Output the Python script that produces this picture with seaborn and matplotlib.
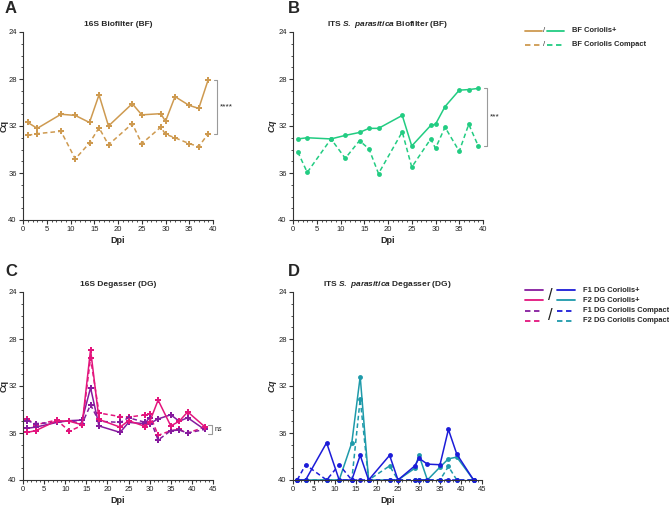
import numpy as np
import pandas as pd
import seaborn as sns
import matplotlib
matplotlib.use("Agg")
import matplotlib.pyplot as plt
from matplotlib.lines import Line2D
from matplotlib.ticker import MultipleLocator

# ---------------- data ----------------
dpi_bf = [1, 3, 8, 11, 14, 16, 18, 23, 25, 29, 30, 32, 35, 37, 39]
a_plus = [31.7, 32.2, 31.0, 31.1, 31.7, 29.35, 32.0, 30.1, 31.05, 30.95, 31.6, 29.5, 30.25, 30.5, 28.05]
a_compact = [32.8, 32.65, 32.45, 34.8, 33.45, 32.15, 33.6, 31.8, 33.5, 32.1, 32.7, 33.0, 33.5, 33.75, 32.65]
b_plus = [33.1, 33.0, 33.1, 32.8, 32.55, 32.2, 32.2, 31.1, 33.7, 31.95, 31.85, 30.35, 28.95, 28.9, 28.8]
b_compact = [34.2, 35.95, 33.1, 34.75, 33.25, 33.95, 36.05, 32.5, 35.5, 33.1, 33.9, 32.1, 34.15, 31.85, 33.7]

dpi_dg = [1, 3, 8, 11, 14, 16, 18, 23, 25, 29, 30, 32, 35, 37, 39, 43]
c_f1_plus = [35.6, 35.5, 35.1, 34.95, 34.9, 32.15, 35.4, 35.95, 35.1, 35.2, 35.2, 34.8, 34.45, 35.0, 34.7, 35.7]
c_f2_plus = [35.95, 35.8, 34.95, 35.0, 35.3, 28.9, 34.85, 35.5, 34.95, 35.45, 35.05, 33.2, 35.4, 35.0, 34.2, 35.45]
c_f1_compact = [34.95, 35.2, 35.1, 34.95, 35.2, 33.6, 35.0, 35.1, 34.7, 35.1, 34.7, 36.6, 35.8, 35.75, 36.0, 35.7]
c_f2_compact = [34.8, 35.3, 34.9, 35.85, 35.35, 29.6, 34.3, 34.6, 34.65, 34.45, 34.4, 36.2, 35.8, 35.7, 36.0, 35.5]
d_f1_plus = [40, 40, 36.83, 40, 40, 37.9, 40, 37.9, 40, 38.8, 38.15, 38.65, 38.7, 35.7, 37.8, 40]
d_f2_plus = [40, 40, 40, 40, 36.83, 31.2, 40, 40, 40, 39.0, 37.9, 40, 38.9, 38.2, 38.05, 40]
d_f1_compact = [40, 38.7, 40, 38.7, 40, 40, 40, 40, 40, 40, 40, 40, 40, 40, 40, 40]
d_f2_compact = [40, 40, 40, 40, 40, 33.1, 40, 38.8, 40, 40, 40, 40, 40, 38.85, 40, 40]

# ---------------- style ----------------
sns.set_theme(style="ticks")
plt.rcParams["font.family"] = ["Liberation Sans", "DejaVu Sans"]
plt.rcParams["mathtext.fontset"] = "custom"
plt.rcParams["mathtext.it"] = "Liberation Sans:italic:bold"
plt.rcParams["mathtext.rm"] = "Liberation Sans:bold"
plt.rcParams["mathtext.bf"] = "Liberation Sans:bold"

TAN = "#CE9A50"
GREEN = "#22CC82"
PURPLE = "#861B9E"
MAGENTA = "#E3157D"
BLUE = "#1C1CD8"
TEAL = "#1E9AAA"
DASH = (0, (3, 2))

W, H = 669, 507
fig = plt.figure(figsize=(W / 100, H / 100), dpi=100)


def add_ax(x0, x1, y0, y1):
    return fig.add_axes([x0 / W, 1 - y1 / H, (x1 - x0) / W, (y1 - y0) / H])


axA = add_ax(23, 213, 32, 220)
axB = add_ax(293, 483, 32, 220)
axC = add_ax(23, 213, 292, 480)
axD = add_ax(293, 482, 292, 480)


def style_ax(ax, xmax, title, ylab_italic=False):
    ax.set_xlim(0, xmax)
    ax.set_ylim(40, 24)
    ax.xaxis.set_major_locator(MultipleLocator(5))
    ax.xaxis.set_minor_locator(MultipleLocator(1))
    ax.yaxis.set_major_locator(MultipleLocator(4))
    ax.yaxis.set_minor_locator(MultipleLocator(1))
    ax.tick_params(which="major", length=3, width=0.8, labelsize=5.5, pad=1.5, color="#333333", labelcolor="#222222")
    ax.tick_params(which="minor", length=1.6, width=0.6, color="#333333")
    for s in ["top", "right"]:
        ax.spines[s].set_visible(False)
    for s in ["left", "bottom"]:
        ax.spines[s].set_linewidth(0.8)
        ax.spines[s].set_color("#333333")
    ax.set_xlabel("Dpi", fontsize=6.5, fontweight="bold", labelpad=2)
    ax.set_ylabel(r"$\mathit{Cq}$" if ylab_italic else "Cq", fontsize=6.5, fontweight="bold")
    ax.yaxis.set_label_coords(-0.076, 0.5)
    ax.set_title(title, fontsize=6, fontweight="bold", pad=4.5)
    ax.set_facecolor("none")


def draw(ax, x, y, color, dashed, marker, ms):
    sns.lineplot(x=x, y=y, ax=ax, color=color, linewidth=1.1,
                 linestyle=DASH if dashed else "-", marker=marker,
                 markersize=ms, markeredgewidth=0, sort=False,
                 estimator=None, clip_on=False)


# Panel A
draw(axA, dpi_bf, a_compact, TAN, True, "P", 5)
draw(axA, dpi_bf, a_plus, TAN, False, "P", 5)
style_ax(axA, 40, "16S Biofilter (BF)")

# Panel B
draw(axB, dpi_bf, b_compact, GREEN, True, "o", 3.5)
draw(axB, dpi_bf, b_plus, GREEN, False, "o", 3.5)
style_ax(axB, 40, r"ITS $\mathit{S.\ parasitica}$ Biofilter (BF)", True)

# Panel C
draw(axC, dpi_dg, c_f2_compact, MAGENTA, True, "P", 5)
draw(axC, dpi_dg, c_f1_compact, PURPLE, True, "P", 5)
draw(axC, dpi_dg, c_f1_plus, PURPLE, False, "P", 5)
draw(axC, dpi_dg, c_f2_plus, MAGENTA, False, "P", 5)
style_ax(axC, 45, "16S Degasser (DG)")

# Panel D
draw(axD, dpi_dg, d_f2_compact, TEAL, True, "o", 3.5)
draw(axD, dpi_dg, d_f2_plus, TEAL, False, "o", 3.5)
draw(axD, dpi_dg, d_f1_compact, BLUE, True, "o", 3.5)
draw(axD, dpi_dg, d_f1_plus, BLUE, False, "o", 3.5)
style_ax(axD, 45, r"ITS $\mathit{S.\ parasitica}$ Degasser (DG)", True)


# significance brackets
def bracket(ax, x0, x1, ya, yb, label, tx):
    kw = dict(color="#9a9a9a", linewidth=0.8, clip_on=False)
    ax.plot([x0, x1, x1, x0], [ya, ya, yb, yb], **kw)
    ax.text(tx, (ya + yb) / 2, label, fontsize=6 if label != "ns" else 5,
            va="center", ha="left", color="#222222", clip_on=False)


bracket(axA, 40.3, 40.9, a_plus[-1], a_compact[-1], "****", 41.4)
bracket(axB, 40.3, 40.9, b_plus[-1], b_compact[-1], "***", 41.4)
bracket(axC, 43.8, 44.8, 35.3, 36.1, "ns", 45.3)

# panel letters
for lbl, (px, py) in {"A": (5, 13), "B": (288, 13), "C": (5, 276), "D": (288, 276)}.items():
    fig.text(px / W, 1 - py / H, lbl, fontsize=12, fontweight="bold", ha="left", va="baseline")


# legends
def leg_line(x0, x1, y, color, dashed):
    fig.add_artist(Line2D([x0 / W, x1 / W], [1 - y / H, 1 - y / H], color=color,
                          linewidth=1.3, linestyle=DASH if dashed else "-"))


def leg_text(x, y, s, size=5.4):
    fig.text(x / W, 1 - y / H, s, fontsize=size, fontweight="bold", va="center", ha="left")


# top legend
for y, dashed, label in [(31, False, "BF Coriolis+"), (45, True, "BF Coriolis Compact")]:
    leg_line(525, 542, y, TAN, dashed)
    fig.text(544.5 / W, 1 - y / H, "/", fontsize=5.5, va="center", ha="center", color="#333333")
    leg_line(547, 564, y, GREEN, dashed)
    leg_text(572, y, label)

# bottom legend
rows = [(290, False, PURPLE, BLUE, "F1 DG Coriolis+"),
        (300, False, MAGENTA, TEAL, "F2 DG Coriolis+"),
        (311, True, PURPLE, BLUE, "F1 DG Coriolis Compact"),
        (321, True, MAGENTA, TEAL, "F2 DG Coriolis Compact")]
for y, dashed, c1, c2, label in rows:
    leg_line(525, 543, y, c1, dashed)
    leg_line(557, 575, y, c2, dashed)
    leg_text(583, y, label)
for yc in (295, 316):
    fig.text(550 / W, 1 - yc / H, "/", fontsize=12, va="center", ha="center", color="#222222")

fig.savefig("out.png", dpi=100)
